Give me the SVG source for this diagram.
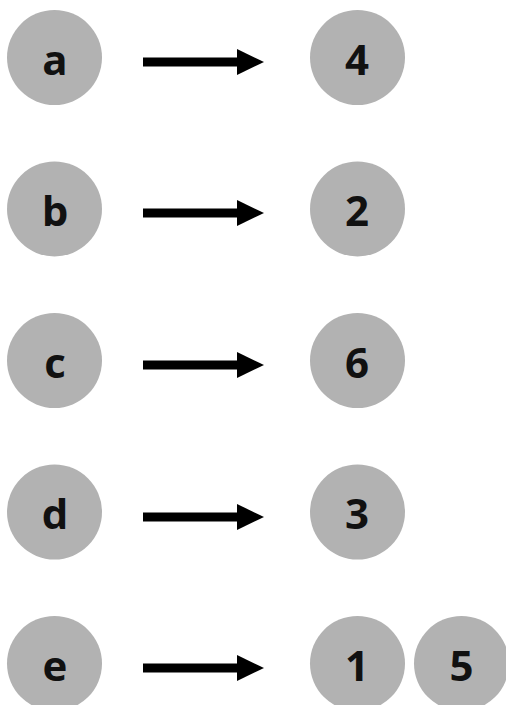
<svg xmlns="http://www.w3.org/2000/svg" width="506" height="705" viewBox="0 0 506 705">
<style>
.n{fill:#b2b2b2}
.t{font-family:"Open Sans","Liberation Sans",sans-serif;font-weight:bold;font-size:42px;fill:#111;text-anchor:middle}
.c{stroke:#000;stroke-width:9;fill:none}
</style>
<defs>
<marker id="ah" markerUnits="userSpaceOnUse" markerWidth="28" markerHeight="28" refX="0" refY="13" orient="auto">
<path d="M0,0 L27,13 L0,26 Z" fill="#000"/>
</marker>
</defs>
<g id="connectors">
<line class="c" x1="143" y1="62" x2="237" y2="62" marker-end="url(#ah)"/>
<line class="c" x1="143" y1="213" x2="237" y2="213" marker-end="url(#ah)"/>
<line class="c" x1="143" y1="365" x2="237" y2="365" marker-end="url(#ah)"/>
<line class="c" x1="143" y1="517" x2="237" y2="517" marker-end="url(#ah)"/>
<line class="c" x1="143" y1="668" x2="237" y2="668" marker-end="url(#ah)"/>
</g>
<g id="node-a"><circle class="n" cx="54.5" cy="57.5" r="47.5"/><text class="t" x="55" y="74.5">a</text></g>
<g id="node-4"><circle class="n" cx="357.5" cy="57.5" r="47.5"/><text class="t" x="357" y="74.5">4</text></g>
<g id="node-b"><circle class="n" cx="54.5" cy="209" r="47.5"/><text class="t" x="55" y="226">b</text></g>
<g id="node-2"><circle class="n" cx="357.5" cy="209" r="47.5"/><text class="t" x="357" y="226">2</text></g>
<g id="node-c"><circle class="n" cx="54.5" cy="360.5" r="47.5"/><text class="t" x="55" y="377.5">c</text></g>
<g id="node-6"><circle class="n" cx="357.5" cy="360.5" r="47.5"/><text class="t" x="357" y="377.5">6</text></g>
<g id="node-d"><circle class="n" cx="54.5" cy="512" r="47.5"/><text class="t" x="55" y="529">d</text></g>
<g id="node-3"><circle class="n" cx="357.5" cy="512" r="47.5"/><text class="t" x="357" y="529">3</text></g>
<g id="node-e"><circle class="n" cx="54.5" cy="663.5" r="47.5"/><text class="t" x="55" y="680.5">e</text></g>
<g id="node-1"><circle class="n" cx="357.5" cy="663.5" r="47.5"/><text class="t" x="357" y="680.5">1</text></g>
<g id="node-5"><circle class="n" cx="461.5" cy="663.5" r="47.5"/><text class="t" x="461.5" y="680.5">5</text></g>
</svg>
